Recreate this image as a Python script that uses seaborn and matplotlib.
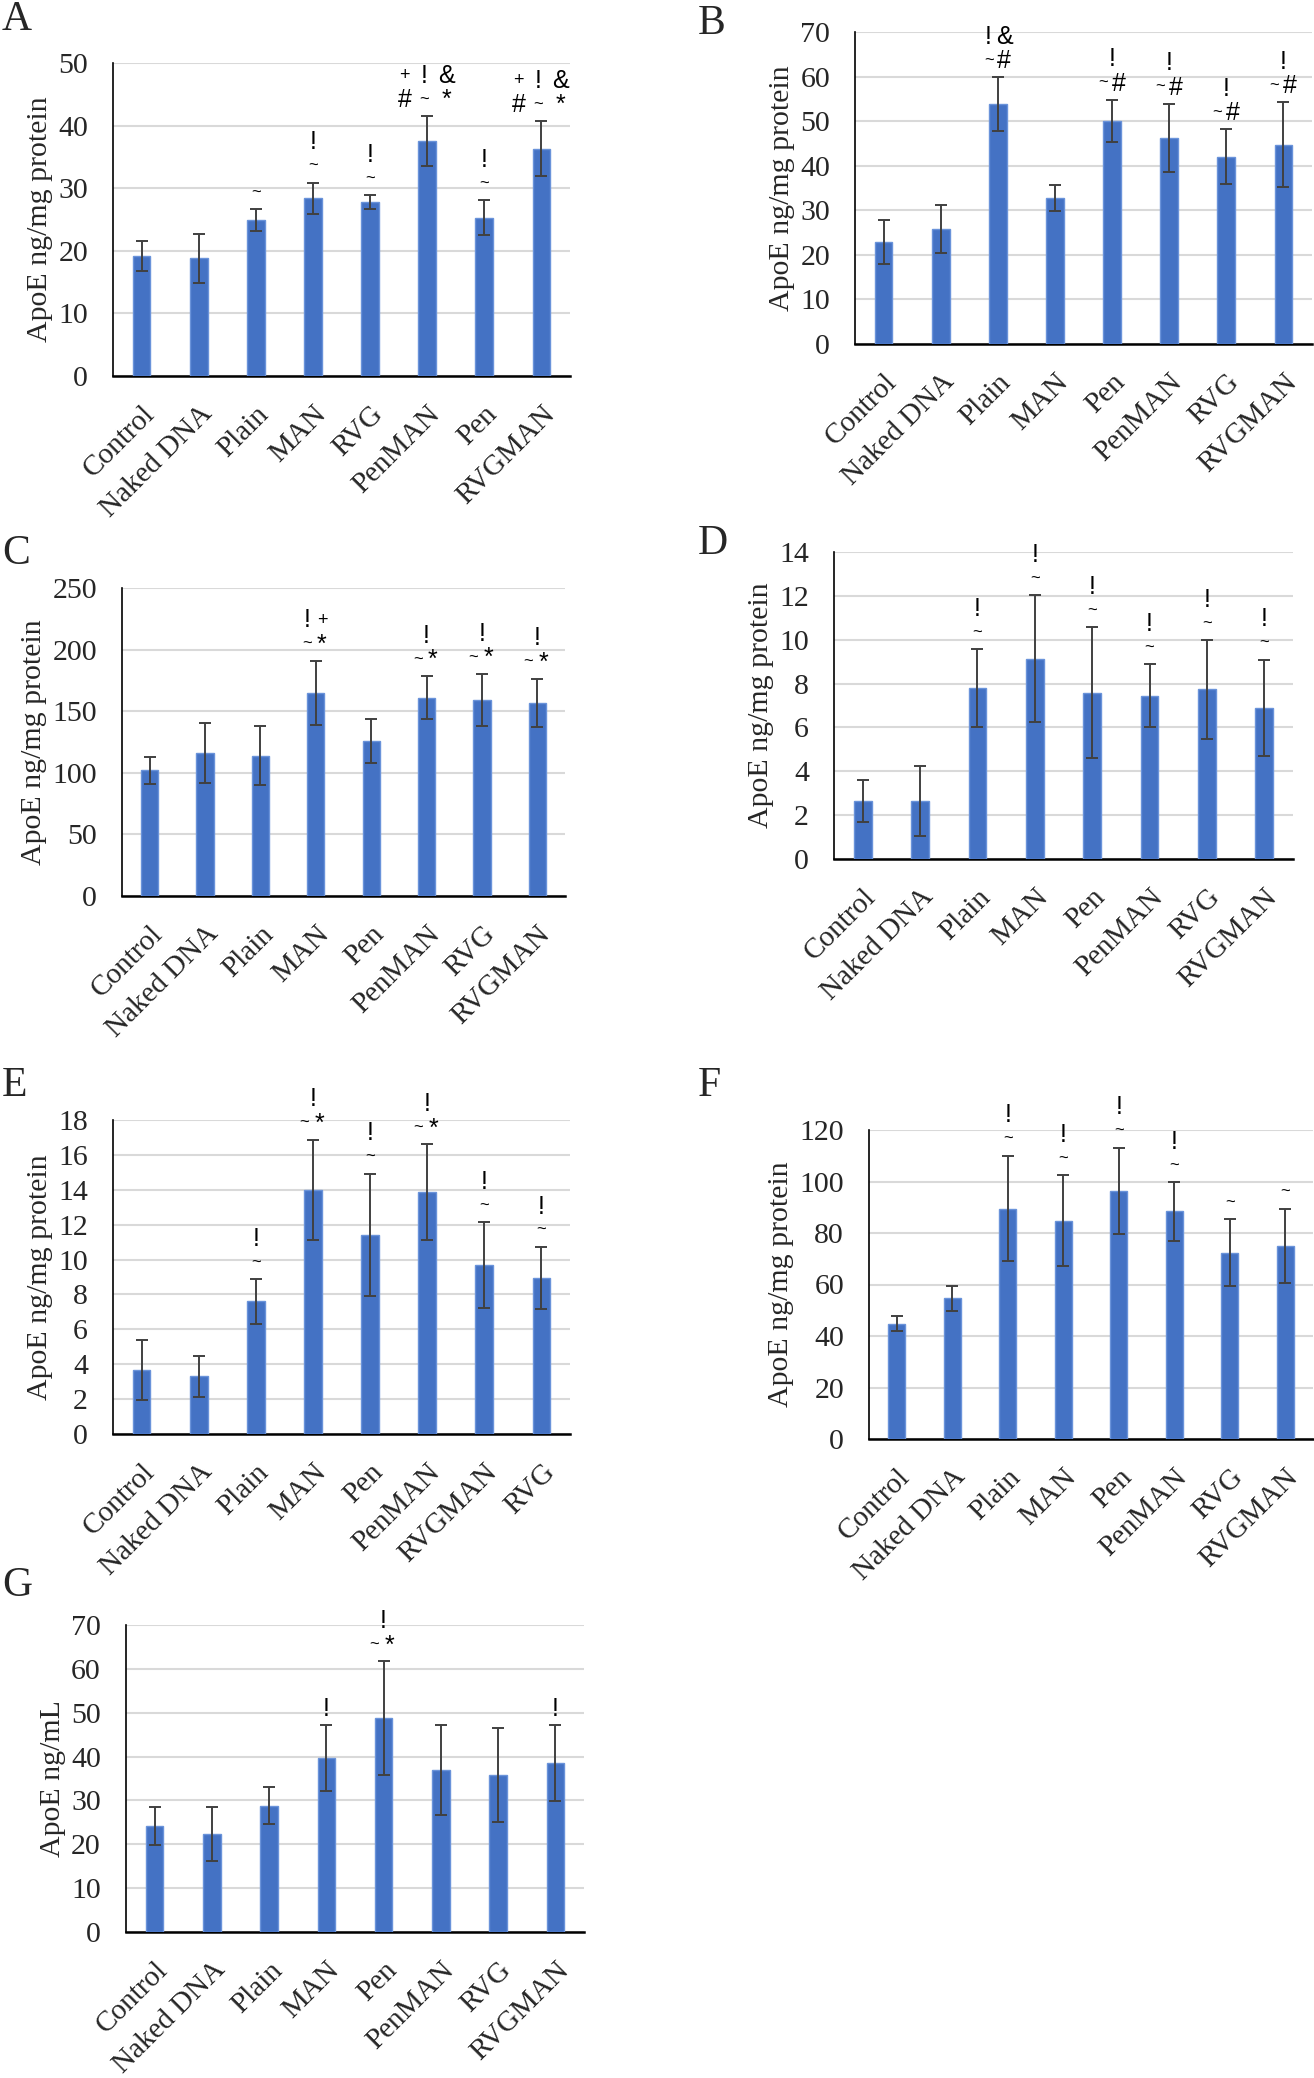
import numpy as np
import pandas as pd
import seaborn as sns
from matplotlib import pyplot as plt

# category orders (they differ between panels)
groups_a = ['Control', 'Naked DNA', 'Plain', 'MAN', 'RVG', 'PenMAN', 'Pen', 'RVGMAN']
groups = ['Control', 'Naked DNA', 'Plain', 'MAN', 'Pen', 'PenMAN', 'RVG', 'RVGMAN']
groups_e = ['Control', 'Naked DNA', 'Plain', 'MAN', 'Pen', 'PenMAN', 'RVGMAN', 'RVG']

# means and error bars
mean_a = [19.2, 18.8, 24.9, 28.4, 27.8, 37.5, 25.3, 36.3]
err_a = [2.4, 3.9, 1.7, 2.5, 1.1, 4.0, 2.75, 4.4]
mean_b = [22.9, 25.8, 53.9, 32.7, 50.1, 46.2, 42.0, 44.7]
err_b = [4.9, 5.3, 6.0, 2.9, 4.7, 7.7, 6.2, 9.5]
mean_c = [102, 116, 114, 165, 126, 161, 159, 157]
err_c = [11, 24.5, 24, 26, 17.7, 17.5, 21, 19.5]
mean_d = [2.66, 2.66, 7.8, 9.14, 7.59, 7.44, 7.73, 6.89]
err_d = [0.95, 1.6, 1.76, 2.88, 2.97, 1.44, 2.25, 2.2]
mean_e = [3.68, 3.30, 7.61, 14.0, 11.43, 13.86, 9.7, 8.95]
err_e = [1.72, 1.18, 1.28, 2.87, 3.5, 2.74, 2.45, 1.78]
mean_f = [44.8, 54.6, 89.5, 84.7, 96.5, 88.4, 72.4, 75.1]
err_f = [3.0, 5.0, 20.5, 17.7, 16.7, 11.4, 13.0, 14.4]
mean_g = [24.2, 22.4, 28.8, 39.7, 48.7, 36.9, 35.8, 38.5]
err_g = [4.3, 6.2, 4.2, 7.5, 13.0, 10.3, 10.8, 8.6]

# significance marks: "upper row|lower row"
marks_a = ['', '', '|~', '!|~', '!|~', '+!&|#~*', '!|~', '+!&|#~*']
marks_b = ['', '', '!&|~#', '', '!|~#', '!|~#', '!|~#', '!|~#']
marks_c = ['', '', '', '!+|~*', '', '!|~*', '!|~*', '!|~*']
marks_d = ['', '', '!|~', '!|~', '!|~', '!|~', '!|~', '!|~']
marks_e = ['', '', '!|~', '!|~*', '!|~', '!|~*', '!|~', '!|~']
marks_f = ['', '', '!|~', '!|~', '!|~', '!|~', '|~', '|~']
marks_g = ['', '', '', '|!', '!|~*', '', '', '|!']

yticks_a = [0, 10, 20, 30, 40, 50]
yticks_b = [0, 10, 20, 30, 40, 50, 60, 70]
yticks_c = [0, 50, 100, 150, 200, 250]
yticks_d = [0, 2, 4, 6, 8, 10, 12, 14]
yticks_e = [0, 2, 4, 6, 8, 10, 12, 14, 16, 18]
yticks_f = [0, 20, 40, 60, 80, 100, 120]
yticks_g = [0, 10, 20, 30, 40, 50, 60, 70]

ylab = 'ApoE ng/mg protein'
ylab_g = 'ApoE ng/mL'

sns.set_style('white')
plt.rcParams['font.family'] = ['Liberation Serif', 'DejaVu Serif']

W, H = 1314, 2078
fig = plt.figure(figsize=(W / 100, H / 100), dpi=100)

BAR = '#4472C4'
offsets = {1: [0.0], 2: [-0.16, 0.11], 3: [-0.40, -0.05, 0.34]}


def panel(letter, box, letter_xy, cats, means, errs, marks, yticks, ylabel):
    l, t, r, b = box
    ax = fig.add_axes([l / W, 1 - b / H, (r - l) / W, (b - t) / H])
    df = pd.DataFrame({'group': cats, 'value': means})
    sns.barplot(data=df, x='group', y='value', order=cats, color=BAR,
                saturation=1, width=0.31, edgecolor='#6A93DA', linewidth=1,
                errorbar=None, ax=ax, zorder=3)
    xs = np.arange(len(cats))
    ax.errorbar(xs, means, yerr=errs, fmt='none', ecolor='#404040',
                elinewidth=1.4, capsize=4.5, capthick=1.4, zorder=4)
    ax.set_ylim(yticks[0], yticks[-1])
    ax.set_yticks(yticks)
    ax.set_xlim(-0.5, len(cats) - 0.5)
    ax.yaxis.grid(True, color='#D9D9D9', lw=1.5, zorder=0)
    ax.set_axisbelow(True)
    for s in ['top', 'right']:
        ax.spines[s].set_visible(False)
    ax.spines['left'].set_linewidth(1.2)
    ax.spines['bottom'].set_linewidth(1.8)
    ax.spines['left'].set_color('black')
    ax.spines['bottom'].set_color('black')
    ax.tick_params(axis='y', length=0, pad=18, labelsize=21.5)
    ax.tick_params(axis='x', length=0, pad=18)
    ax.set_xticks(xs)
    ax.set_xticklabels(cats, rotation=45, ha='right', va='top',
                       rotation_mode='anchor', fontsize=21)
    ax.set_xlabel('')
    ax.set_ylabel(ylabel, fontsize=21.5, labelpad=4)
    # significance marks above the error bars
    for i, m in enumerate(marks):
        if not m:
            continue
        top_row, low_row = m.split('|')
        ytop = means[i] + errs[i]
        for row, dy in [(low_row, 11.5), (top_row, 29)]:
            for ch, dx in zip(row, offsets.get(len(row), [0.0])):
                size = 12 if ch == '~' else (13 if ch == '+' else 18)
                ax.annotate(ch, xy=(i + dx, ytop), xytext=(0, dy),
                            textcoords='offset points', ha='center',
                            va='center', fontsize=size,
                            family='Liberation Sans', color='black')
    fig.text(letter_xy[0] / W, 1 - letter_xy[1] / H, letter, fontsize=30,
             ha='left', va='top')
    return ax


panel('A', (113, 63, 570, 376), (2, 1), groups_a, mean_a, err_a, marks_a, yticks_a, ylab)
panel('B', (855, 32, 1312, 344), (698, 4), groups, mean_b, err_b, marks_b, yticks_b, ylab)
panel('C', (122, 588, 565, 896), (2, 534), groups, mean_c, err_c, marks_c, yticks_c, ylab)
panel('D', (834, 552, 1293, 859), (698, 524), groups, mean_d, err_d, marks_d, yticks_d, ylab)
panel('E', (113, 1120, 570, 1434), (2, 1067), groups_e, mean_e, err_e, marks_e, yticks_e, ylab)
panel('F', (869, 1130, 1313, 1439), (698, 1067), groups, mean_f, err_f, marks_f, yticks_f, ylab)
panel('G', (126, 1625, 584, 1932), (2, 1567), groups, mean_g, err_g, marks_g, yticks_g, ylab_g)

fig.savefig('out.png', dpi=100, facecolor='white')
